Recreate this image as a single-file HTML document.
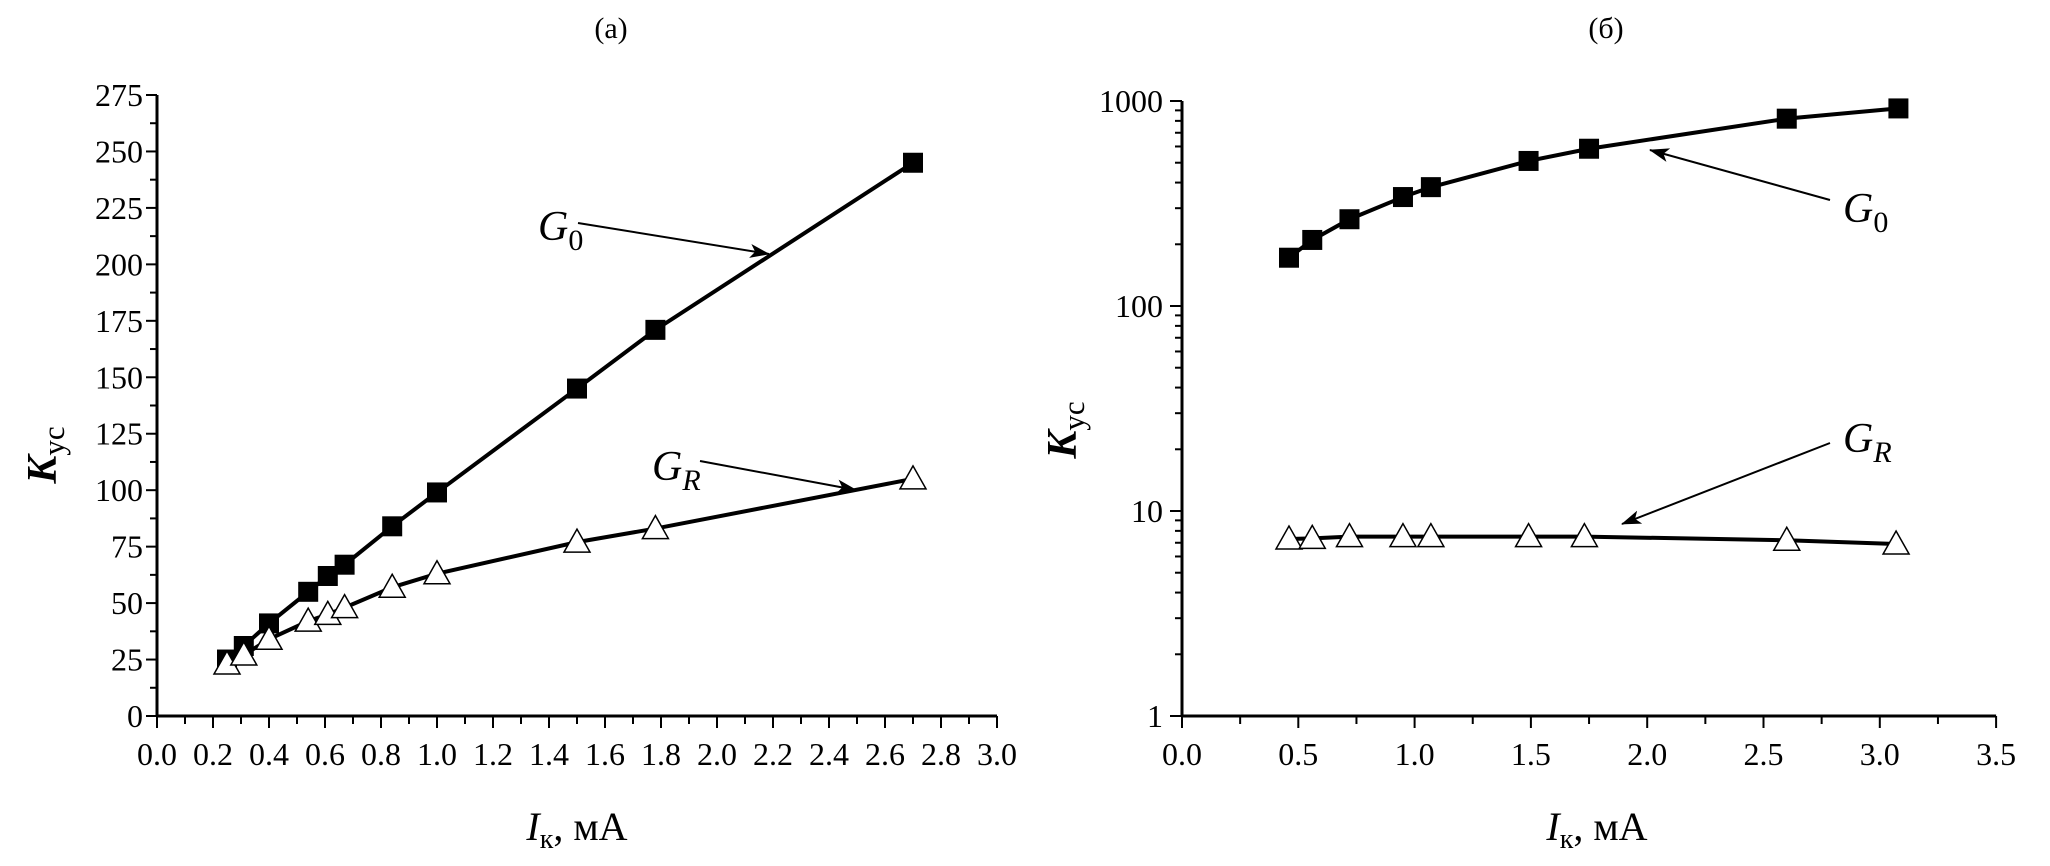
<!DOCTYPE html>
<html><head><meta charset="utf-8"><style>
html,body{margin:0;padding:0;background:#fff;}
svg{display:block;font-family:"Liberation Serif",serif;}
</style></head><body>
<svg id="chart" width="2050" height="866" viewBox="0 0 2050 866" xmlns="http://www.w3.org/2000/svg">
<defs>
<marker id="arr" markerWidth="20" markerHeight="14" refX="19" refY="7" orient="auto" markerUnits="userSpaceOnUse"><path d="M0,0 L20,7 L0,14 L5,7 Z" fill="#000"/></marker>
</defs>
<g id="pa"></g>
<g id="pb"></g>
</svg>
<script>
// Panel (a) data
const aX = [0.25,0.31,0.40,0.54,0.61,0.67,0.84,1.00,1.50,1.78,2.70];
const aG0 = [25,31,41,55,62,67,84,99,145,171,245];
const aGR = [23,27,34,42,45,48,57,63,77,83,105];
const aXTicks = ["0.0","0.2","0.4","0.6","0.8","1.0","1.2","1.4","1.6","1.8","2.0","2.2","2.4","2.6","2.8","3.0"];
const aYTicks = ["0","25","50","75","100","125","150","175","200","225","250","275"];
// Panel (б) data
const bXG0 = [0.46,0.56,0.72,0.95,1.07,1.49,1.75,2.60,3.08];
const bG0 = [172,210,265,340,380,510,585,820,920];
const bXGR = [0.46,0.56,0.72,0.95,1.07,1.49,1.73,2.60,3.07];
const bGR = [7.3,7.35,7.5,7.5,7.5,7.5,7.5,7.2,6.9];
const bXTicks = ["0.0","0.5","1.0","1.5","2.0","2.5","3.0","3.5"];
const bYTicks = ["1","10","100","1000"];

const NS="http://www.w3.org/2000/svg";
function mk(parent,tag,attrs){const e=document.createElementNS(NS,tag);for(const k in attrs)e.setAttribute(k,attrs[k]);parent.appendChild(e);return e;}

const ax = v => 157 + v*280;
const ay = v => 716 - v*(621/275);
const bx = v => 1182 + v*232.6;
const by = v => 716 - Math.log10(v)*205;

function line(g,x1,y1,x2,y2,w){return mk(g,'line',{x1,y1,x2,y2,stroke:'#000','stroke-width':w});}
function txt(g,x,y,s,size,anchor){const t=mk(g,'text',{x,y,'font-size':size,'text-anchor':anchor||'middle'});t.textContent=s;return t;}

function square(g,x,y){return mk(g,'rect',{x:x-10,y:y-10,width:20,height:20,fill:'#000'});}
function tri(g,x,y){return mk(g,'polygon',{points:`${x},${y-13} ${x-13},${y+10} ${x+13},${y+10}`,fill:'#fff',stroke:'#000','stroke-width':1.5});}

// ---- Panel a ----
const pa=document.getElementById('pa');
let t=txt(pa,611,38,"(a)",30);


let l=line(pa,157,ay(275),157,717,3);


l=line(pa,156,716,ax(3),716,3);


for(let i=0;i<=30;i++){const x=ax(i/10);line(pa,x,716,x,i%2===0?728:724,2);}
for(let i=0;i<=22;i++){const y=ay(i*12.5);line(pa,157,y,i%2===0?146:150,y,2);}
aXTicks.forEach(s=>{const v=parseFloat(s);const e=txt(pa,ax(v),765,s,32);

});
aYTicks.forEach(s=>{const v=parseFloat(s);const e=txt(pa,143,ay(v)+11,s,32,'end');

});
let p=mk(pa,'polyline',{points:aX.map((x,i)=>ax(x)+','+ay(aG0[i])).join(' '),fill:'none',stroke:'#000','stroke-width':4});


p=mk(pa,'polyline',{points:aX.map((x,i)=>ax(x)+','+ay(aGR[i])).join(' '),fill:'none',stroke:'#000','stroke-width':4});


aX.forEach((x,i)=>{const m=square(pa,ax(x),ay(aG0[i]));

});
aX.forEach((x,i)=>{const m=tri(pa,ax(x),ay(aGR[i]));

});
l=mk(pa,'line',{x1:578,y1:223,x2:769,y2:254,stroke:'#000','stroke-width':2,'marker-end':'url(#arr)'});


pa.insertAdjacentHTML('beforeend','<text x="538" y="240" font-size="42" font-style="italic">G<tspan font-style="normal" font-size="30" dy="10">0</tspan></text>');
l=mk(pa,'line',{x1:700,y1:461,x2:856,y2:490,stroke:'#000','stroke-width':2,'marker-end':'url(#arr)'});


pa.insertAdjacentHTML('beforeend','<text x="652" y="480" font-size="42" font-style="italic">G<tspan font-size="30" dy="10">R</tspan></text>');
pa.insertAdjacentHTML('beforeend','<text x="577" y="840" font-size="40" text-anchor="middle"><tspan font-style="italic">I</tspan><tspan font-size="28" dy="8">к</tspan><tspan dy="-8">, мА</tspan></text>');
pa.insertAdjacentHTML('beforeend','<text transform="translate(56,455) rotate(-90)" font-size="42" text-anchor="middle"><tspan font-style="italic" font-weight="bold">K</tspan><tspan font-size="31" dy="8">ус</tspan></text>');

// ---- Panel b ----
const pb=document.getElementById('pb');
t=txt(pb,1606,38,"(б)",30);


l=line(pb,1182,by(1000),1182,717,3);


l=line(pb,1181,716,bx(3.5),716,3);


for(let i=0;i<=14;i++){const x=bx(i*0.25);line(pb,x,716,x,i%2===0?728:724,2);}
for(let d=0;d<3;d++){for(let k=1;k<=9;k++){const y=by(k*Math.pow(10,d));line(pb,1182,y,k===1?1170:1175,y,2);}}
line(pb,1182,by(1000),1170,by(1000),2);
bXTicks.forEach(s=>{const v=parseFloat(s);const e=txt(pb,bx(v),765,s,32);

});
bYTicks.forEach(s=>{const v=parseFloat(s);const e=txt(pb,1163,by(v)+11,s,32,'end');

});
p=mk(pb,'polyline',{points:bXG0.map((x,i)=>bx(x)+','+by(bG0[i])).join(' '),fill:'none',stroke:'#000','stroke-width':4});


p=mk(pb,'polyline',{points:bXGR.map((x,i)=>bx(x)+','+by(bGR[i])).join(' '),fill:'none',stroke:'#000','stroke-width':4});


bXG0.forEach((x,i)=>{const m=square(pb,bx(x),by(bG0[i]));

});
bXGR.forEach((x,i)=>{const m=tri(pb,bx(x),by(bGR[i]));

});
l=mk(pb,'line',{x1:1830,y1:200,x2:1650,y2:150,stroke:'#000','stroke-width':2,'marker-end':'url(#arr)'});


pb.insertAdjacentHTML('beforeend','<text x="1843" y="222" font-size="42" font-style="italic">G<tspan font-style="normal" font-size="30" dy="10">0</tspan></text>');
l=mk(pb,'line',{x1:1830,y1:443,x2:1622,y2:524,stroke:'#000','stroke-width':2,'marker-end':'url(#arr)'});


pb.insertAdjacentHTML('beforeend','<text x="1843" y="452" font-size="42" font-style="italic">G<tspan font-size="30" dy="10">R</tspan></text>');
pb.insertAdjacentHTML('beforeend','<text x="1597" y="840" font-size="40" text-anchor="middle"><tspan font-style="italic">I</tspan><tspan font-size="28" dy="8">к</tspan><tspan dy="-8">, мА</tspan></text>');
pb.insertAdjacentHTML('beforeend','<text transform="translate(1076,430) rotate(-90)" font-size="42" text-anchor="middle"><tspan font-style="italic" font-weight="bold">K</tspan><tspan font-size="31" dy="8">ус</tspan></text>');
</script>
</body></html>
